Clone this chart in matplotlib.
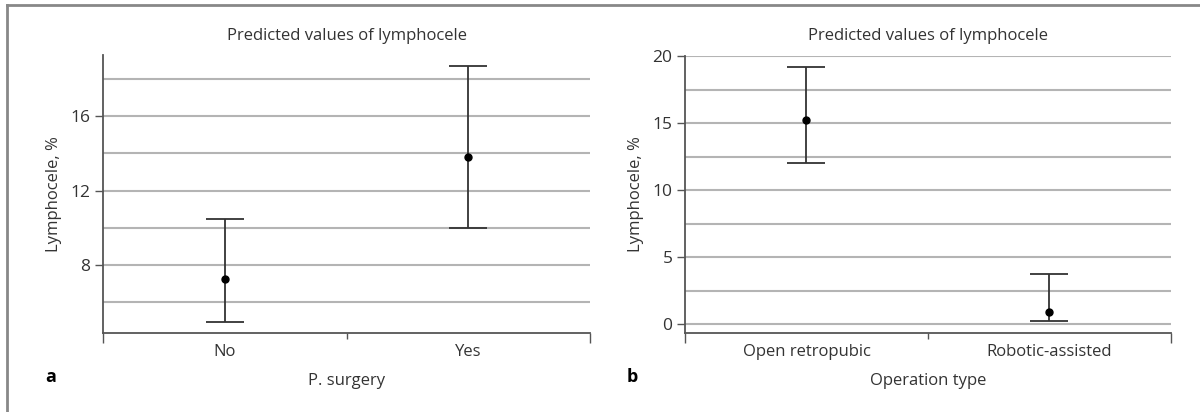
import matplotlib.pyplot as plt
from matplotlib.lines import Line2D

plt.rcParams['font.family'] = ['Open Sans', 'DejaVu Sans']

# panel a: previous surgery
surg_labels = ['No', 'Yes']
surg_pred = [7.25, 13.8]
surg_low = [4.95, 10.0]
surg_high = [10.5, 18.7]

# panel b: operation type
op_labels = ['Open retropubic', 'Robotic-assisted']
op_pred = [15.2, 0.9]
op_low = [12.0, 0.25]
op_high = [19.2, 3.7]

grid_col = '#b4b4b4'
axis_col = '#555555'
bar_col = '#333333'
text_col = '#333333'


def draw_panel(ax, labels, pred, low, high, ylim, major, minor, xlabel):
    x = list(range(len(labels)))
    err = [[p - l for p, l in zip(pred, low)], [h - p for p, h in zip(pred, high)]]
    ax.set_ylim(*ylim)
    ax.set_xlim(-0.5, len(labels) - 0.5)
    for g in minor:
        ax.axhline(g, color=grid_col, lw=1.5, zorder=1)
    ax.errorbar(x, pred, yerr=err, fmt='o', color='black', ecolor=bar_col,
                elinewidth=1.3, capsize=14, capthick=1.3, markersize=5, zorder=3)

    ax.set_yticks(major)
    ax.set_yticklabels([str(m) for m in major], fontsize=12.5, color=text_col)
    ax.tick_params(axis='y', length=6, width=1, color=axis_col, pad=3)

    # category ticks sit on the boundaries, labels in the middle
    ax.set_xticks([-0.5, 0.5, 1.5])
    ax.set_xticklabels([])
    ax.tick_params(axis='x', which='major', length=7, width=1, color=axis_col, direction='out')
    ax.xaxis.get_major_ticks()[1].tick1line.set_markersize(4)
    ax.set_xticks(x, minor=True)
    ax.set_xticklabels(labels, minor=True, fontsize=12, color=text_col)
    ax.tick_params(axis='x', which='minor', length=0, pad=8)

    for side in ['top', 'right']:
        ax.spines[side].set_visible(False)
    for side in ['left', 'bottom']:
        ax.spines[side].set_color(axis_col)
        ax.spines[side].set_linewidth(1.3)

    ax.set_ylabel('Lymphocele, %', fontsize=12, color=text_col, labelpad=6)
    ax.set_xlabel(xlabel, fontsize=12, color=text_col, labelpad=9)
    return ax


fig = plt.figure(figsize=(12, 4.12), dpi=100)

ax_a = fig.add_axes([0.0858, 0.1917, 0.4059, 0.6748])
draw_panel(ax_a, surg_labels, surg_pred, surg_low, surg_high, (4.34, 19.3),
           [8, 12, 16], [6, 8, 10, 12, 14, 16, 18], 'P. surgery')

ax_b = fig.add_axes([0.5708, 0.1917, 0.4050, 0.6723])
draw_panel(ax_b, op_labels, op_pred, op_low, op_high, (-0.67, 20.0),
           [0, 5, 10, 15, 20], [0, 2.5, 5, 7.5, 10, 12.5, 15, 17.5, 20],
           'Operation type')

# titles at the same height for both panels
fig.text(0.289, 0.913, 'Predicted values of lymphocele', ha='center', va='center',
         fontsize=12, color=text_col)
fig.text(0.7733, 0.913, 'Predicted values of lymphocele', ha='center', va='center',
         fontsize=12, color=text_col)

fig.text(0.038, 0.085, 'a', fontsize=13, fontweight='bold', ha='left', va='center')
fig.text(0.522, 0.085, 'b', fontsize=13, fontweight='bold', ha='left', va='center')

# frame around the figure (top and left edges visible)
fig.add_artist(Line2D([0.006, 1.0], [0.988, 0.988], color='#888888', lw=2, transform=fig.transFigure))
fig.add_artist(Line2D([0.006, 0.006], [0.0, 0.988], color='#888888', lw=2, transform=fig.transFigure))

fig.savefig('out.png', dpi=100, facecolor='white')
